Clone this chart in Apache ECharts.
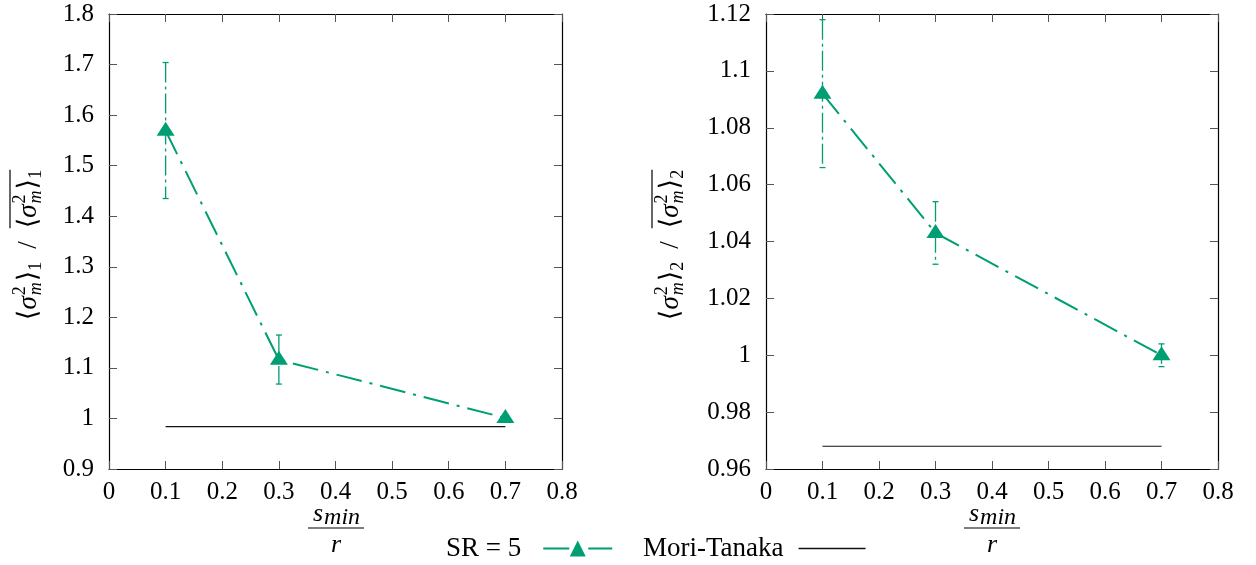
<!DOCTYPE html>
<html>
<head>
<meta charset="utf-8">
<script src="https://cdn.jsdelivr.net/npm/echarts@6/dist/echarts.min.js"></script>
<style>
html,body{margin:0;padding:0;background:#fff;}
#chart{width:1256px;height:565px;}
</style>
</head>
<body>
<div id="chart"></div>
<script>
// ---- data ----
const sValues = [0.1, 0.3, 0.7];
const sr5Left = [1.569, 1.116, 1.001];
const sr5LeftLow = [1.435, 1.068, 0.997];
const sr5LeftHigh = [1.704, 1.165, 1.004];
const moriTanakaLeft = 0.984;
const sr5Right = [1.092, 1.043, 1.000];
const sr5RightLow = [1.066, 1.032, 0.996];
const sr5RightHigh = [1.118, 1.054, 1.004];
const moriTanakaRight = 0.968;
const mtRange = [0.1, 0.7];
const xTicks = {min: 0, max: 0.8, interval: 0.1};
const yTicksLeft = {min: 0.9, max: 1.8, interval: 0.1};
const yTicksRight = {min: 0.96, max: 1.12, interval: 0.02};
const legendNames = ['SR = 5', 'Mori-Tanaka'];

// ---- style ----
const GREEN = '#009e73';
const FONT = "'Liberation Serif', 'DejaVu Serif', serif";
const TICK_SIZE = 25;

const canvas = document.createElement('canvas');
const ctx = canvas.getContext('2d');
function tw(text, size, italic) {
  ctx.font = (italic ? 'italic ' : '') + size + 'px ' + FONT;
  return ctx.measureText(text).width;
}
function txt(t, x, y, size, italic, align) {
  return {type: 'text', x: x, y: y, style: {
    text: t, fontSize: size, fontFamily: FONT, fontStyle: italic ? 'italic' : 'normal',
    fill: '#000', align: align || 'left', textAlign: align || 'left',
    verticalAlign: 'middle', textVerticalAlign: 'middle'}};
}

// y-axis name: <sigma_m^2>_k / overline(<sigma_m^2>_k)
function yName(cx, cy, k) {
  const S = 27, s = 18;
  const children = [];
  let x = 0;
  function part() {
    const start = x;
    children.push(txt('\u27E8', x, 0, S, false)); x += tw('\u27E8', S, false);
    children.push(txt('\u03C3', x, 0, S, true)); x += tw('\u03C3', S, true) + 1;
    children.push(txt('2', x, -9, s, false));
    children.push(txt('m', x, 7, s, true));
    x += Math.max(tw('2', s, false), tw('m', s, true)) + 1;
    children.push(txt('\u27E9', x, 0, S, false)); x += tw('\u27E9', S, false);
    children.push(txt(String(k), x, 7, s, false)); x += tw(String(k), s, false);
    return [start, x];
  }
  part();
  x += 13;
  children.push(txt('/', x, 0, S, false)); x += tw('/', S, false);
  x += 13;
  const r = part();
  children.push({type: 'line', shape: {x1: r[0], y1: -19, x2: r[1], y2: -19}, style: {stroke: '#000', lineWidth: 1.2}});
  const W = x;
  children.forEach(c => { if (c.type === 'text') c.x -= W / 2; else { c.shape.x1 -= W / 2; c.shape.x2 -= W / 2; } });
  return {type: 'group', x: cx, y: cy, rotation: Math.PI / 2, children: children};
}

// x-axis name: s_min / r
function xName(cx) {
  const S = 26, s = 24;
  const ws = tw('s', S, true), wm = tw('min', s, true);
  const x0 = cx - (ws + wm) / 2;
  return {type: 'group', children: [
    txt('s', x0, 514, S, true),
    txt('min', x0 + ws + 1, 518, s, true),
    {type: 'line', shape: {x1: cx - 28, y1: 528, x2: cx + 28, y2: 528}, style: {stroke: '#000', lineWidth: 1.2}},
    txt('r', cx, 545, S, true, 'center')
  ]};
}

const chart = echarts.init(document.getElementById('chart'), null, {renderer: 'canvas'});

const grids = [
  {left: 109, top: 14, width: 453, height: 455},
  {left: 766, top: 14, width: 452, height: 455}
];

function xAxis(gi, pos) {
  const main = pos === 'bottom';
  return {type: 'value', gridIndex: gi, position: pos, min: xTicks.min, max: xTicks.max, interval: xTicks.interval,
    axisLine: {show: true, onZero: false, lineStyle: {color: '#000', width: 1.2}},
    axisTick: {show: true, inside: true, length: 8, lineStyle: {color: '#555', width: 1}},
    axisLabel: {show: main, margin: 11, color: '#000', fontFamily: FONT, fontSize: TICK_SIZE,
      formatter: v => String(+v.toFixed(2))},
    splitLine: {show: false}};
}
function yAxis(gi, pos, t) {
  const main = pos === 'left';
  return {type: 'value', gridIndex: gi, position: pos, min: t.min, max: t.max, interval: t.interval,
    axisLine: {show: true, onZero: false, lineStyle: {color: '#000', width: 1.2}},
    axisTick: {show: true, inside: true, length: 8, lineStyle: {color: '#555', width: 1}},
    axisLabel: {show: main, margin: 15, color: '#000', fontFamily: FONT, fontSize: TICK_SIZE,
      formatter: v => String(+v.toFixed(3))},
    splitLine: {show: false}};
}

function errRender(params, api) {
  const x = api.value(0), lo = api.value(1), hi = api.value(2);
  const pLo = api.coord([x, lo]), pHi = api.coord([x, hi]);
  const st = {stroke: GREEN, lineWidth: 1.3};
  return {type: 'group', children: [
    {type: 'line', shape: {x1: pLo[0], y1: pHi[1], x2: pLo[0], y2: pLo[1]}, style: Object.assign({lineDash: [20, 4, 3, 4]}, st)},
    {type: 'line', shape: {x1: pHi[0] - 3, y1: pHi[1], x2: pHi[0] + 3, y2: pHi[1]}, style: st},
    {type: 'line', shape: {x1: pLo[0] - 3, y1: pLo[1], x2: pLo[0] + 3, y2: pLo[1]}, style: st}
  ]};
}

function seriesFor(gi, vals, lo, hi, mt) {
  return [
    {name: 'err' + gi, type: 'custom', xAxisIndex: gi * 2, yAxisIndex: gi * 2, renderItem: errRender,
      data: sValues.map((x, i) => [x, lo[i], hi[i]]), encode: {x: 0, y: [1, 2]}, z: 2, silent: true},
    {name: legendNames[0], type: 'line', xAxisIndex: gi * 2, yAxisIndex: gi * 2,
      data: sValues.map((x, i) => [x, vals[i]]),
      symbol: 'triangle', symbolSize: [18, 14], symbolOffset: [0, -2],
      itemStyle: {color: GREEN},
      lineStyle: {color: GREEN, width: 2, type: [26, 8, 3, 8]}, z: 3},
    {name: legendNames[1], type: 'line', xAxisIndex: gi * 2, yAxisIndex: gi * 2,
      data: mtRange.map(x => [x, mt]), symbol: 'none',
      itemStyle: {color: '#111'},
      lineStyle: {color: '#111', width: 1.2}, z: 2}
  ];
}

const option = {
  animation: false,
  backgroundColor: '#fff',
  grid: grids,
  xAxis: [xAxis(0, 'bottom'), xAxis(0, 'top'), xAxis(1, 'bottom'), xAxis(1, 'top')],
  yAxis: [yAxis(0, 'left', yTicksLeft), yAxis(0, 'right', yTicksLeft), yAxis(1, 'left', yTicksRight), yAxis(1, 'right', yTicksRight)],
  legend: [
    {data: [legendNames[0]], left: 446, top: 535, padding: 0, align: 'right', itemWidth: 69, itemHeight: 20,
      textStyle: {fontFamily: FONT, fontSize: 27, color: '#000', padding: [0, 17, 0, 0]}},
    {data: [{name: legendNames[1], icon: 'rect'}], left: 643, top: 535, padding: 0, align: 'right', itemWidth: 67, itemHeight: 1.3,
      textStyle: {fontFamily: FONT, fontSize: 27, color: '#000', padding: [0, 10, 0, 0]}}
  ],
  series: [].concat(
    seriesFor(0, sr5Left, sr5LeftLow, sr5LeftHigh, moriTanakaLeft),
    seriesFor(1, sr5Right, sr5RightLow, sr5RightHigh, moriTanakaRight)
  ),
  graphic: [
    yName(29, 245, 1),
    yName(671, 245, 2),
    xName(336),
    xName(992)
  ]
};
chart.setOption(option);
</script>
</body>
</html>
